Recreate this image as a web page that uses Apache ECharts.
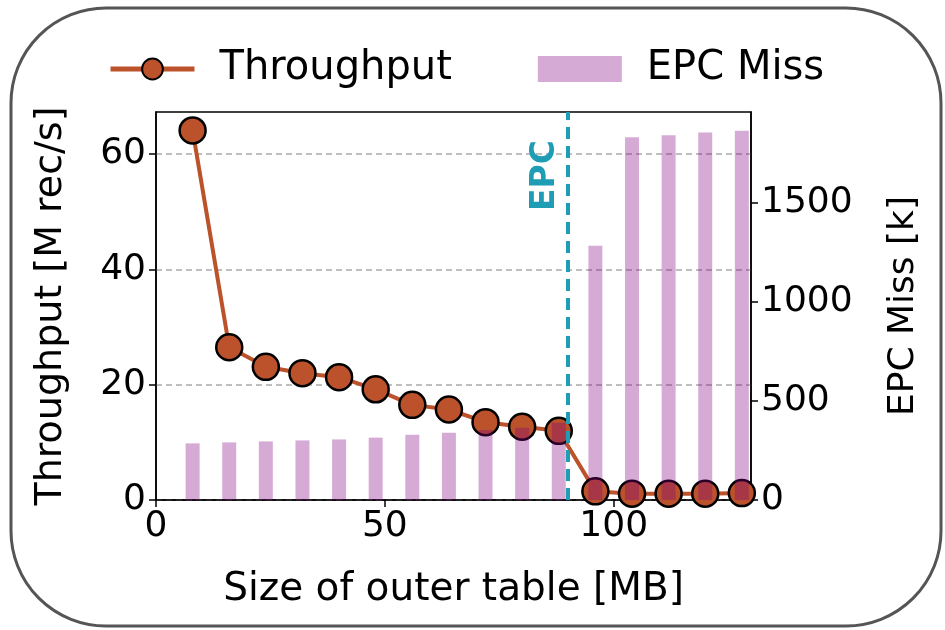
<!DOCTYPE html>
<html>
<head>
<meta charset="utf-8">
<script src="https://cdn.jsdelivr.net/npm/echarts@6/dist/echarts.min.js"></script>
<style>html,body{margin:0;padding:0;background:#fff}#c{width:945px;height:630px}</style>
</head>
<body>
<div id="c"></div>
<script>
const sizes = [8,16,24,32,40,48,56,64,72,80,88,96,104,112,120,128];
const throughput = [64.1,26.5,23.1,22.0,21.3,19.2,16.5,15.7,13.5,12.7,12.0,1.5,1.1,1.1,1.1,1.2];
const epcMiss = [286,291,296,301,306,315,330,340,354,365,390,1284,1832,1843,1857,1865];
const xTicks = [0,50,100];
const leftTicks = [0,20,40,60];
const rightTicks = [0,500,1000,1500];
const epcLimit = 90;

const FONT = 'DejaVu Sans';
const chart = echarts.init(document.getElementById('c'), null, {renderer:'canvas'});
chart.setOption({
  animation:false,
  backgroundColor:'#fff',
  textStyle:{fontFamily:FONT},
  graphic:[{type:'rect', shape:{x:11,y:8,width:930,height:618,r:95}, style:{fill:'none',stroke:'#555',lineWidth:3}, z:-1, silent:true}],
  legend:{
    left:103, top:44, itemWidth:84, itemHeight:26, itemGap:86,
    lineStyle:{width:5},
    textStyle:{fontSize:40, color:'#000', fontFamily:FONT, padding:[0,0,0,20]},
    data:[{name:'Throughput'},{name:'EPC Miss', icon:'rect'}]
  },
  grid:{left:156, right:194, top:112, bottom:130, show:true, borderColor:'#000', borderWidth:1.5, backgroundColor:'transparent'},
  xAxis:{
    type:'value', min:0, max:130, interval:50,
    name:'Size of outer table [MB]', nameLocation:'middle', nameGap:70,
    nameTextStyle:{fontSize:39, color:'#000', fontFamily:FONT},
    axisLine:{show:true, lineStyle:{color:'#000', width:1.5}},
    axisTick:{show:true, length:7, lineStyle:{color:'#000', width:1.5}, customValues:xTicks},
    axisLabel:{fontSize:36, color:'#000', margin:9, customValues:xTicks, formatter:v=>String(v)},
    splitLine:{show:false}
  },
  yAxis:[{
    type:'value', min:0, max:67.3, interval:20, position:'left',
    name:'Throughput [M rec/s]', nameLocation:'middle', nameGap:86, nameRotate:90,
    nameTextStyle:{fontSize:38, color:'#000', fontFamily:FONT},
    axisLine:{show:true, lineStyle:{color:'#000', width:1.5}},
    axisTick:{show:true, length:7, lineStyle:{color:'#000', width:1.5}, customValues:leftTicks},
    axisLabel:{fontSize:36, color:'#000', margin:10, customValues:leftTicks, formatter:v=>String(v)},
    splitLine:{show:true, lineStyle:{color:'#aaa', width:1.5, type:[6,4]}}
  },{
    type:'value', min:0, max:1960, interval:500, position:'right',
    name:'EPC Miss [k]', nameLocation:'middle', nameGap:135, nameRotate:90,
    nameTextStyle:{fontSize:36, color:'#000', fontFamily:FONT},
    axisLine:{show:true, lineStyle:{color:'#000', width:1.5}},
    axisTick:{show:true, length:7, lineStyle:{color:'#000', width:1.5}, customValues:rightTicks},
    axisLabel:{fontSize:36, color:'#000', margin:10, customValues:rightTicks, formatter:v=>String(v)},
    splitLine:{show:false}
  }],
  series:[{
    name:'Throughput', type:'line', yAxisIndex:0, z:2,
    data: sizes.map((x,i)=>[x, throughput[i]]),
    symbol:'circle', symbolSize:26,
    lineStyle:{color:'#bb522b', width:4},
    itemStyle:{color:'#bb522b', borderColor:'#000', borderWidth:2.5},
    markLine:{
      silent:true, symbol:['none','none'],
      lineStyle:{color:'#1f9db4', width:4, type:[12,7]},
      label:{show:true, formatter:'EPC', position:'insideEndTop', color:'#1f9db4', fontWeight:'bold', fontSize:33, fontFamily:FONT, distance:[28,6]},
      data:[{xAxis:epcLimit}]
    }
  },{
    name:'EPC Miss', type:'bar', yAxisIndex:1, z:3,
    data: sizes.map((x,i)=>[x, epcMiss[i]]),
    barWidth:14,
    itemStyle:{color:'rgba(128,0,128,0.33)'}
  }]
});
</script>
</body>
</html>
